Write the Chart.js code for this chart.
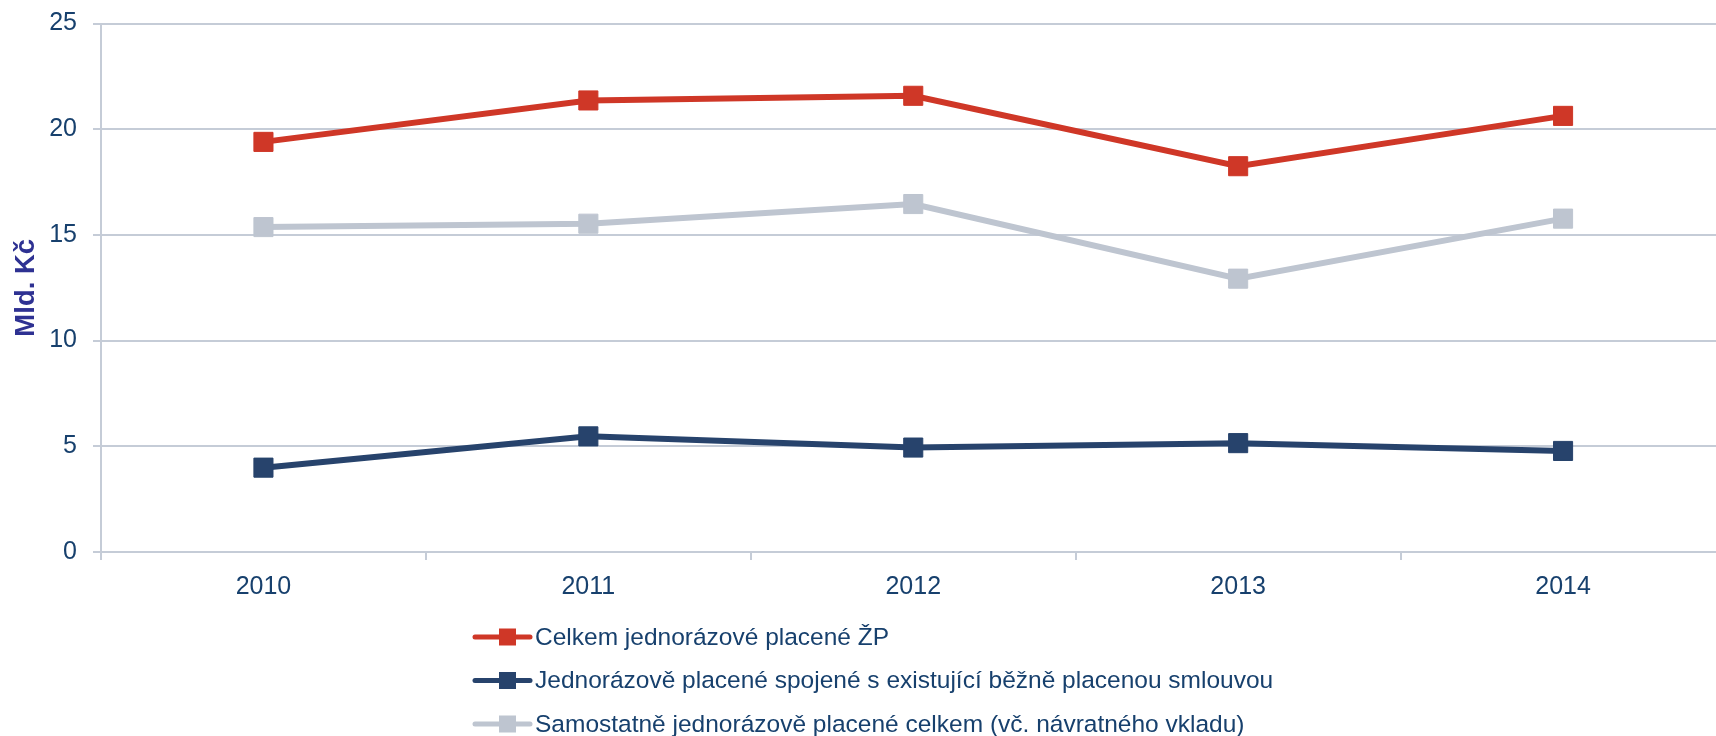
<!DOCTYPE html>
<html>
<head>
<meta charset="utf-8">
<script src="https://cdn.jsdelivr.net/npm/chart.js@4.4.1/dist/chart.umd.min.js"></script>
<style>
  html, body { margin: 0; padding: 0; background: #fff; overflow: hidden; }
  #wrap { width: 1740px; height: 736px; }
</style>
</head>
<body>
<div id="wrap"><canvas id="chart"></canvas></div>
<script>
// data (mld. Kč)
const years = ['2010', '2011', '2012', '2013', '2014'];
const celkem = [19.40, 21.36, 21.58, 18.25, 20.63];
const spojene = [3.99, 5.47, 4.94, 5.15, 4.78];
const samostatne = [15.37, 15.53, 16.46, 12.93, 15.77];
const seriesNames = [
    'Celkem jednorázové placené ŽP',
    'Jednorázově placené spojené s existující běžně placenou smlouvou',
    'Samostatně jednorázově placené celkem (vč. návratného vkladu)'
];
const yMin = 0, yMax = 25, yStep = 5;

const colors = ['#cf3727', '#27436c', '#bec5d0'];
const textColor = '#17406d';
const gridColor = '#c5ccd7';
const fontFamily = '"Liberation Sans", Arial, sans-serif';

// legend drawn as a vertical list under the x axis
const listLegend = {
    id: 'listLegend',
    afterDraw(chart, args, opts) {
        const ctx = chart.ctx;
        ctx.save();
        ctx.font = '24.5px ' + fontFamily;
        ctx.textBaseline = 'middle';
        ctx.textAlign = 'left';
        chart.data.datasets.forEach((ds, i) => {
            const y = chart.chartArea.bottom + opts.offsetY + i * opts.rowHeight;
            const x = opts.left;
            ctx.strokeStyle = ds.borderColor;
            ctx.lineWidth = 5;
            ctx.lineCap = 'round';
            ctx.beginPath();
            ctx.moveTo(x, y);
            ctx.lineTo(x + 55, y);
            ctx.stroke();
            ctx.fillStyle = ds.borderColor;
            ctx.fillRect(x + 24, y - 8.5, 17, 17);
            ctx.fillStyle = textColor;
            ctx.fillText(ds.label, x + 60, y + 1);
        });
        ctx.restore();
    }
};

function makeDataset(label, values, color) {
    return {
        label: label,
        data: values,
        borderColor: color,
        backgroundColor: color,
        borderWidth: 6,
        tension: 0,
        pointStyle: 'rect',
        pointRadius: 13.5,
        pointHoverRadius: 13.5,
        pointBorderWidth: 1,
        pointBorderColor: color,
        pointBackgroundColor: color
    };
}

const ctx = document.getElementById('chart').getContext('2d');
const chart = new Chart(ctx, {
    type: 'line',
    data: {
        labels: years,
        datasets: [
            makeDataset(seriesNames[0], celkem, colors[0]),
            makeDataset(seriesNames[1], spojene, colors[1]),
            makeDataset(seriesNames[2], samostatne, colors[2])
        ]
    },
    options: {
        responsive: true,
        maintainAspectRatio: false,
        animation: false,
        layout: { padding: { top: 0, right: 6, left: 0, bottom: 0 } },
        scales: {
            x: {
                offset: true,
                grid: {
                    offset: true,
                    drawOnChartArea: false,
                    drawTicks: true,
                    tickLength: 8,
                    color: gridColor,
                    lineWidth: 2
                },
                border: { color: gridColor, width: 2 },
                ticks: {
                    color: textColor,
                    font: { family: fontFamily, size: 25 },
                    padding: 12,
                    maxRotation: 0
                },
                afterFit(scale) { scale.height = 184; }
            },
            y: {
                min: yMin,
                max: yMax,
                ticks: {
                    stepSize: yStep,
                    color: textColor,
                    // small lineHeight keeps the top label from pushing the plot down
                    font: { family: fontFamily, size: 25, lineHeight: 0.6 },
                    padding: 16
                },
                grid: {
                    color: gridColor,
                    lineWidth: 2,
                    drawTicks: true,
                    tickLength: 8
                },
                border: { color: gridColor, width: 2 },
                title: {
                    display: true,
                    text: 'Mld. Kč',
                    color: '#2e3192',
                    font: { family: fontFamily, size: 27.5, weight: 'bold' },
                    padding: { top: 10, bottom: 0 }
                },
                afterFit(scale) { scale.width = 101; }
            }
        },
        plugins: {
            legend: { display: false },
            tooltip: { enabled: false },
            listLegend: { left: 475, offsetY: 85, rowHeight: 43.5 }
        }
    },
    plugins: [listLegend]
});
</script>
</body>
</html>
